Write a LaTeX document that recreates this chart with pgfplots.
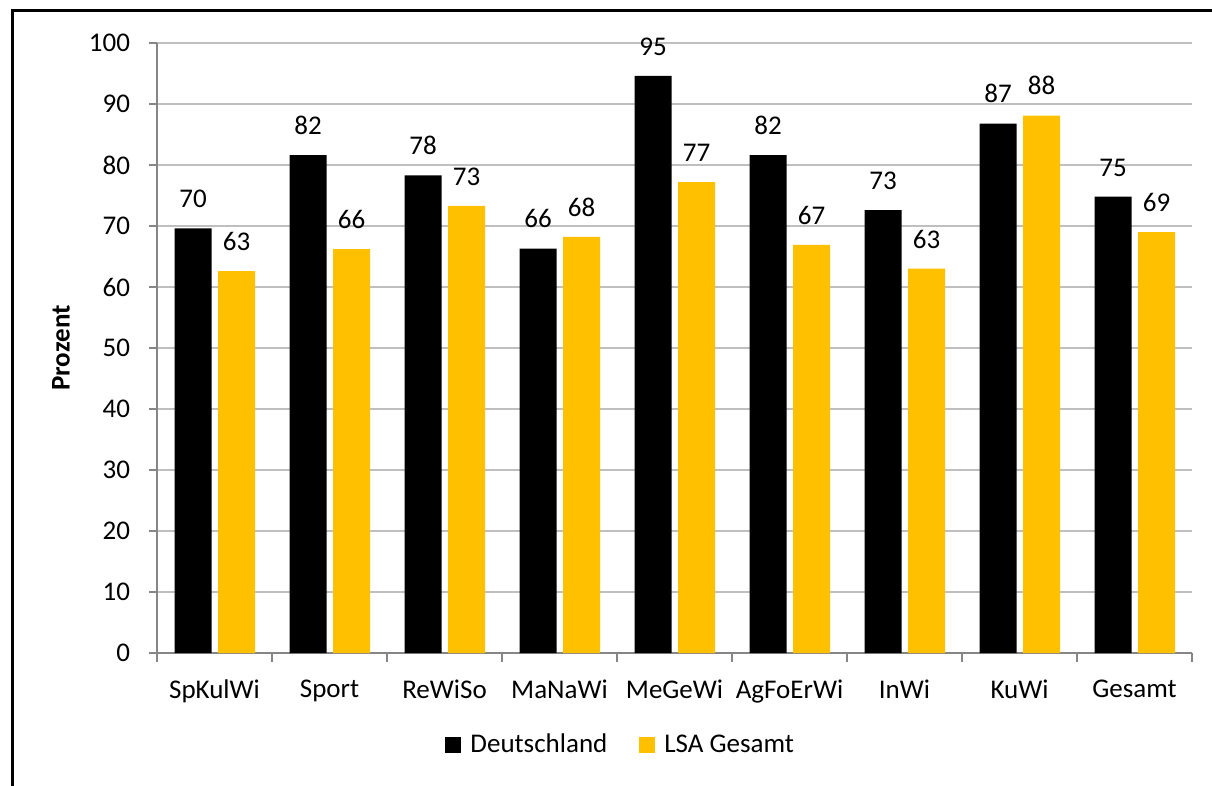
\documentclass[border=0pt]{standalone}
\usepackage{fontspec}
\setmainfont{Carlito}
\usepackage{pgfplots}
\pgfplotsset{compat=1.18}
\definecolor{lsagold}{HTML}{FFC000}
\definecolor{axisgray}{HTML}{868686}
\definecolor{gridgray}{HTML}{BFBFBF}
\newcommand{\chartfont}{\fontsize{13.5}{16}\selectfont}

\begin{document}
\begin{tikzpicture}
\begin{axis}[
  scale only axis,
  width=517.5pt, height=305pt,
  xmin=-0.5, xmax=8.5,
  ymin=0, ymax=100,
  axis x line*=bottom, axis y line*=left,
  axis line style={axisgray, line width=1pt, -},
  ytick={0,10,...,100},
  ymajorgrids,
  major grid style={gridgray, line width=1pt},
  xtick={0,...,8},
  xticklabels={SpKulWi,Sport,ReWiSo,MaNaWi,MeGeWi,AgFoErWi,InWi,KuWi,Gesamt},
  minor xtick={-0.5,0.5,...,8.5},
  tick align=outside,
  major tick length=4pt, minor tick length=4.5pt,
  major x tick style={draw=none},
  every tick/.style={axisgray, line width=1pt},
  ticklabel style={font=\chartfont},
  xticklabel style={yshift=-6pt},
  yticklabel style={xshift=-6pt},
  /pgf/number format/assume math mode=true,
  ylabel={Prozent},
  ylabel style={font=\bfseries\chartfont, at={(rel axis cs:-0.0928,0.5)}, anchor=center},
  ybar, bar width=18.5pt,
  nodes near coords={\pgfmathprintnumber[fixed,precision=0]{\pgfplotspointmeta}},
  every node near coord/.append style={font=\chartfont, anchor=south, inner sep=0pt, yshift=10pt, text=black},
  legend columns=2,
  legend cell align=left,
  legend style={draw=none, at={(rel axis cs:0.449,-0.1508)}, anchor=center, font=\chartfont,
    /tikz/every even column/.append style={column sep=14pt}},
  legend image code/.code={\fill[#1] (0pt,-4pt) rectangle (8pt,4pt); \path (10.5pt,0pt);},
]
\addplot[fill=black, draw=none, bar shift=-10.75pt] coordinates {
  (0,69.6) (1,81.6) (2,78.3) (3,66.3) (4,94.6) (5,81.6) (6,72.6) (7,86.8) (8,74.8)};
\addplot[fill=lsagold, draw=none, bar shift=11pt] coordinates {
  (0,62.6) (1,66.2) (2,73.3) (3,68.2) (4,77.2) (5,66.9) (6,63.0) (7,88.1) (8,69.0)};
\legend{Deutschland, LSA Gesamt}
\coordinate (bbsw) at (rel axis cs:-0.1517,-0.2164);
\coordinate (bbne) at (rel axis cs:1.0193,1.0705);
\coordinate (frsw) at (rel axis cs:-0.1401,-0.30);
\coordinate (frne) at (rel axis cs:1.06,1.0525);
\end{axis}
\pgfresetboundingbox
\useasboundingbox (bbsw) rectangle (bbne);
\draw[line width=1.5pt] (frsw) rectangle (frne);
\end{tikzpicture}
\end{document}
